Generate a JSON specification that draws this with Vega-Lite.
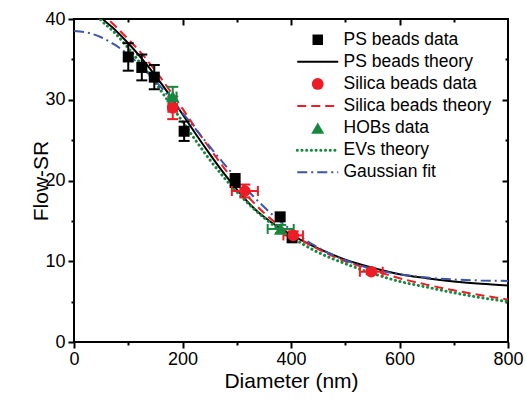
{
  "$schema": "https://vega.github.io/schema/vega-lite/v6.json",
  "width": 434,
  "height": 323,
  "autosize": {"type": "none"},
  "padding": {"left": 74, "top": 19, "right": 18, "bottom": 62},
  "config": {
    "font": "Liberation Sans",
    "view": {"stroke": "black", "strokeWidth": 2},
    "axis": {"grid": false, "domain": false, "tickColor": "black", "tickWidth": 2, "labelColor": "black", "titleColor": "black", "labelFontSize": 18, "titleFontSize": 21, "titleFontWeight": "normal", "labelFlush": false, "labelOverlap": false}
  },
  "datasets": {
    "curves": [
      {"series": "PS beads theory", "x": 0, "y": 44.5}, {"series": "PS beads theory", "x": 25, "y": 42.5}, {"series": "PS beads theory", "x": 50, "y": 40.2}, {"series": "PS beads theory", "x": 75, "y": 38.7}, {"series": "PS beads theory", "x": 100, "y": 37.0}, {"series": "PS beads theory", "x": 125, "y": 35.1}, {"series": "PS beads theory", "x": 150, "y": 33.0}, {"series": "PS beads theory", "x": 175, "y": 30.7}, {"series": "PS beads theory", "x": 200, "y": 28.2}, {"series": "PS beads theory", "x": 225, "y": 25.7}, {"series": "PS beads theory", "x": 250, "y": 23.3}, {"series": "PS beads theory", "x": 275, "y": 21.0}, {"series": "PS beads theory", "x": 300, "y": 18.9}, {"series": "PS beads theory", "x": 325, "y": 17.0}, {"series": "PS beads theory", "x": 350, "y": 15.5}, {"series": "PS beads theory", "x": 375, "y": 14.3}, {"series": "PS beads theory", "x": 400, "y": 13.3}, {"series": "PS beads theory", "x": 425, "y": 12.4}, {"series": "PS beads theory", "x": 450, "y": 11.6}, {"series": "PS beads theory", "x": 500, "y": 10.2}, {"series": "PS beads theory", "x": 550, "y": 9.2}, {"series": "PS beads theory", "x": 600, "y": 8.4}, {"series": "PS beads theory", "x": 650, "y": 7.9}, {"series": "PS beads theory", "x": 700, "y": 7.5}, {"series": "PS beads theory", "x": 750, "y": 7.2}, {"series": "PS beads theory", "x": 800, "y": 7.0},
      {"series": "Silica beads theory", "x": 0, "y": 45.0}, {"series": "Silica beads theory", "x": 25, "y": 43.0}, {"series": "Silica beads theory", "x": 50, "y": 40.8}, {"series": "Silica beads theory", "x": 75, "y": 39.2}, {"series": "Silica beads theory", "x": 100, "y": 37.5}, {"series": "Silica beads theory", "x": 125, "y": 35.7}, {"series": "Silica beads theory", "x": 150, "y": 33.6}, {"series": "Silica beads theory", "x": 175, "y": 31.3}, {"series": "Silica beads theory", "x": 200, "y": 28.9}, {"series": "Silica beads theory", "x": 225, "y": 26.4}, {"series": "Silica beads theory", "x": 250, "y": 24.0}, {"series": "Silica beads theory", "x": 275, "y": 21.7}, {"series": "Silica beads theory", "x": 300, "y": 19.6}, {"series": "Silica beads theory", "x": 325, "y": 17.7}, {"series": "Silica beads theory", "x": 350, "y": 16.0}, {"series": "Silica beads theory", "x": 375, "y": 14.6}, {"series": "Silica beads theory", "x": 400, "y": 13.4}, {"series": "Silica beads theory", "x": 425, "y": 12.4}, {"series": "Silica beads theory", "x": 450, "y": 11.5}, {"series": "Silica beads theory", "x": 500, "y": 10.0}, {"series": "Silica beads theory", "x": 550, "y": 8.9}, {"series": "Silica beads theory", "x": 600, "y": 7.9}, {"series": "Silica beads theory", "x": 650, "y": 7.1}, {"series": "Silica beads theory", "x": 700, "y": 6.4}, {"series": "Silica beads theory", "x": 750, "y": 5.8}, {"series": "Silica beads theory", "x": 800, "y": 5.25},
      {"series": "EVs theory", "x": 0, "y": 44.0}, {"series": "EVs theory", "x": 25, "y": 42.0}, {"series": "EVs theory", "x": 48, "y": 40.0}, {"series": "EVs theory", "x": 75, "y": 38.3}, {"series": "EVs theory", "x": 100, "y": 36.4}, {"series": "EVs theory", "x": 125, "y": 34.3}, {"series": "EVs theory", "x": 150, "y": 32.1}, {"series": "EVs theory", "x": 175, "y": 29.7}, {"series": "EVs theory", "x": 200, "y": 27.3}, {"series": "EVs theory", "x": 225, "y": 24.9}, {"series": "EVs theory", "x": 250, "y": 22.6}, {"series": "EVs theory", "x": 275, "y": 20.5}, {"series": "EVs theory", "x": 300, "y": 18.6}, {"series": "EVs theory", "x": 325, "y": 16.9}, {"series": "EVs theory", "x": 350, "y": 15.4}, {"series": "EVs theory", "x": 375, "y": 14.1}, {"series": "EVs theory", "x": 400, "y": 13.0}, {"series": "EVs theory", "x": 425, "y": 12.0}, {"series": "EVs theory", "x": 450, "y": 11.1}, {"series": "EVs theory", "x": 500, "y": 9.7}, {"series": "EVs theory", "x": 550, "y": 8.5}, {"series": "EVs theory", "x": 600, "y": 7.5}, {"series": "EVs theory", "x": 650, "y": 6.8}, {"series": "EVs theory", "x": 700, "y": 6.1}, {"series": "EVs theory", "x": 750, "y": 5.5}, {"series": "EVs theory", "x": 800, "y": 5.0},
      {"series": "Gaussian fit", "x": 0, "y": 38.5}, {"series": "Gaussian fit", "x": 25, "y": 38.31}, {"series": "Gaussian fit", "x": 50, "y": 37.74}, {"series": "Gaussian fit", "x": 75, "y": 36.82}, {"series": "Gaussian fit", "x": 100, "y": 35.59}, {"series": "Gaussian fit", "x": 125, "y": 34.07}, {"series": "Gaussian fit", "x": 150, "y": 32.32}, {"series": "Gaussian fit", "x": 175, "y": 30.41}, {"series": "Gaussian fit", "x": 200, "y": 28.38}, {"series": "Gaussian fit", "x": 225, "y": 26.3}, {"series": "Gaussian fit", "x": 250, "y": 24.22}, {"series": "Gaussian fit", "x": 275, "y": 22.19}, {"series": "Gaussian fit", "x": 300, "y": 20.24}, {"series": "Gaussian fit", "x": 325, "y": 18.42}, {"series": "Gaussian fit", "x": 350, "y": 16.74}, {"series": "Gaussian fit", "x": 375, "y": 15.23}, {"series": "Gaussian fit", "x": 400, "y": 13.88}, {"series": "Gaussian fit", "x": 425, "y": 12.71}, {"series": "Gaussian fit", "x": 450, "y": 11.7}, {"series": "Gaussian fit", "x": 475, "y": 10.84}, {"series": "Gaussian fit", "x": 500, "y": 10.13}, {"series": "Gaussian fit", "x": 550, "y": 9.06}, {"series": "Gaussian fit", "x": 600, "y": 8.39}, {"series": "Gaussian fit", "x": 650, "y": 7.98}, {"series": "Gaussian fit", "x": 700, "y": 7.74}, {"series": "Gaussian fit", "x": 750, "y": 7.62}, {"series": "Gaussian fit", "x": 800, "y": 7.56}
    ],
    "points": [
      {"series": "PS beads data", "x": 100, "y": 35.3, "ylo": 33.6, "yhi": 37.0},
      {"series": "PS beads data", "x": 125, "y": 34.0, "ylo": 32.4, "yhi": 35.6},
      {"series": "PS beads data", "x": 148, "y": 32.8, "ylo": 31.3, "yhi": 34.3},
      {"series": "PS beads data", "x": 203, "y": 26.1, "ylo": 24.9, "yhi": 27.3},
      {"series": "PS beads data", "x": 297, "y": 20.0, "ylo": 19.2, "yhi": 20.8},
      {"series": "PS beads data", "x": 380, "y": 15.5},
      {"series": "PS beads data", "x": 402, "y": 12.9},
      {"series": "Silica beads data", "x": 182, "y": 29.0, "ylo": 27.6, "yhi": 30.4, "xlo": 174, "xhi": 190},
      {"series": "Silica beads data", "x": 315, "y": 18.7, "ylo": 17.9, "yhi": 19.5, "xlo": 291, "xhi": 339},
      {"series": "Silica beads data", "x": 404, "y": 13.2, "ylo": 12.7, "yhi": 13.7, "xlo": 386, "xhi": 422},
      {"series": "Silica beads data", "x": 548, "y": 8.7, "ylo": 8.4, "yhi": 9.0, "xlo": 527, "xhi": 569},
      {"series": "HOBs data", "x": 182, "y": 30.4, "ylo": 29.2, "yhi": 31.6, "xlo": 175, "xhi": 189},
      {"series": "HOBs data", "x": 381, "y": 14.0, "ylo": 13.5, "yhi": 14.5, "xlo": 357, "xhi": 405}
    ]
  },
  "encoding": {
    "color": {
      "field": "series",
      "type": "nominal",
      "scale": {
        "domain": ["PS beads data", "PS beads theory", "Silica beads data", "Silica beads theory", "HOBs data", "EVs theory", "Gaussian fit"],
        "range": ["#000000", "#000000", "#ee1c25", "#ee1c25", "#17873f", "#17873f", "#3a56a5"]
      },
      "legend": {
        "title": null,
        "orient": "none",
        "legendX": 223,
        "legendY": 12,
        "padding": 0,
        "labelFontSize": 17.5,
        "labelColor": "black",
        "labelLimit": 300,
        "symbolSize": 100,
        "symbolStrokeWidth": 2,
        "symbolOffset": 12,
        "labelOffset": 17,
        "rowPadding": 3.1,
        "encode": {
          "symbols": {
            "update": {
              "shape": {"signal": "datum.value === 'PS beads data' ? 'square' : datum.value === 'Silica beads data' ? 'circle' : datum.value === 'HOBs data' ? 'triangle-up' : 'stroke'"},
              "size": {"signal": "datum.value === 'PS beads data' ? 110 : datum.value === 'Silica beads data' ? 140 : datum.value === 'HOBs data' ? 170 : 1681"},
              "fill": {"signal": "indexof(['PS beads data','Silica beads data','HOBs data'], datum.value) >= 0 ? scale('color', datum.value) : 'transparent'"},
              "stroke": {"signal": "scale('color', datum.value)"},
              "strokeWidth": {"signal": "indexof(['PS beads data','Silica beads data','HOBs data'], datum.value) >= 0 ? 0 : (datum.value === 'EVs theory' ? 3 : 2)"},
              "strokeDash": {"signal": "datum.value === 'Silica beads theory' ? [9,5] : datum.value === 'EVs theory' ? [0.1,4.6] : datum.value === 'Gaussian fit' ? [10,4,2,4] : [1,0]"},
              "strokeCap": {"signal": "datum.value === 'EVs theory' ? 'round' : 'butt'"},
              "opacity": {"value": 1}
            }
          }
        }
      }
    }
  },
  "layer": [
    {
      "data": {"name": "points"},
      "mark": {"type": "point", "opacity": 0},
      "encoding": {
        "x": {"field": "x", "type": "quantitative", "scale": {"domain": [0, 800], "nice": false, "zero": false},
          "axis": {"orient": "bottom", "values": [0, 200, 400, 600, 800], "tickSize": 6, "labelPadding": 2, "title": "Diameter (nm)", "titleY": 45, "titleBaseline": "alphabetic"}},
        "y": {"field": "y", "type": "quantitative", "scale": {"domain": [0, 40], "nice": false, "zero": false},
          "axis": {"orient": "left", "values": [0, 10, 20, 30, 40], "tickSize": 6, "labelPadding": 3, "title": "Flow-SR", "titleX": -27, "titleBaseline": "alphabetic"}}
      }
    },
    {
      "data": {"name": "points"},
      "mark": {"type": "point", "opacity": 0},
      "encoding": {
        "x": {"field": "x", "type": "quantitative", "axis": {"orient": "bottom", "values": [100, 300, 500, 700], "tickSize": 3, "labels": false, "title": null}},
        "y": {"field": "y", "type": "quantitative", "axis": {"orient": "left", "values": [5, 15, 25, 35], "tickSize": 3, "labels": false, "title": null}}
      }
    },
    {
      "data": {"name": "points"},
      "mark": {"type": "point", "opacity": 0},
      "encoding": {
        "x": {"field": "x", "type": "quantitative", "axis": {"orient": "top", "values": [200, 400, 600], "tickSize": -6, "labels": false, "title": null}},
        "y": {"field": "y", "type": "quantitative", "axis": {"orient": "right", "values": [10, 20, 30], "tickSize": -6, "labels": false, "title": null}}
      }
    },
    {
      "data": {"name": "points"},
      "mark": {"type": "point", "opacity": 0},
      "encoding": {
        "x": {"field": "x", "type": "quantitative", "axis": {"orient": "top", "values": [100, 300, 500, 700], "tickSize": -3, "labels": false, "title": null}},
        "y": {"field": "y", "type": "quantitative", "axis": {"orient": "right", "values": [5, 15, 25, 35], "tickSize": -3, "labels": false, "title": null}}
      }
    },
    {
      "data": {"name": "curves"},
      "transform": [{"filter": "datum.series === 'PS beads theory'"}],
      "mark": {"type": "line", "strokeWidth": 2, "clip": true, "interpolate": "monotone"},
      "encoding": {"x": {"field": "x", "type": "quantitative", "axis": null}, "y": {"field": "y", "type": "quantitative", "axis": null}}
    },
    {
      "data": {"name": "curves"},
      "transform": [{"filter": "datum.series === 'Silica beads theory'"}],
      "mark": {"type": "line", "strokeWidth": 2, "strokeDash": [9, 5], "clip": true, "interpolate": "monotone"},
      "encoding": {"x": {"field": "x", "type": "quantitative", "axis": null}, "y": {"field": "y", "type": "quantitative", "axis": null}}
    },
    {
      "data": {"name": "curves"},
      "transform": [{"filter": "datum.series === 'EVs theory'"}],
      "mark": {"type": "line", "strokeWidth": 3, "strokeDash": [0.1, 4.6], "strokeCap": "round", "clip": true, "interpolate": "monotone"},
      "encoding": {"x": {"field": "x", "type": "quantitative", "axis": null}, "y": {"field": "y", "type": "quantitative", "axis": null}}
    },
    {
      "data": {"name": "curves"},
      "transform": [{"filter": "datum.series === 'Gaussian fit'"}],
      "mark": {"type": "line", "strokeWidth": 2, "strokeDash": [10, 4, 2, 4], "clip": true, "interpolate": "monotone"},
      "encoding": {"x": {"field": "x", "type": "quantitative", "axis": null}, "y": {"field": "y", "type": "quantitative", "axis": null}}
    },
    {
      "data": {"name": "points"},
      "transform": [{"filter": "isValid(datum.ylo)"}],
      "mark": {"type": "rule", "strokeWidth": 2},
      "encoding": {"x": {"field": "x", "type": "quantitative", "axis": null}, "y": {"field": "ylo", "type": "quantitative", "axis": null}, "y2": {"field": "yhi"}}
    },
    {
      "data": {"name": "points"},
      "transform": [{"filter": "isValid(datum.ylo)"}],
      "mark": {"type": "tick", "orient": "horizontal", "size": 11, "thickness": 2, "opacity": 1},
      "encoding": {"x": {"field": "x", "type": "quantitative", "axis": null}, "y": {"field": "ylo", "type": "quantitative", "axis": null}}
    },
    {
      "data": {"name": "points"},
      "transform": [{"filter": "isValid(datum.yhi)"}],
      "mark": {"type": "tick", "orient": "horizontal", "size": 11, "thickness": 2, "opacity": 1},
      "encoding": {"x": {"field": "x", "type": "quantitative", "axis": null}, "y": {"field": "yhi", "type": "quantitative", "axis": null}}
    },
    {
      "data": {"name": "points"},
      "transform": [{"filter": "isValid(datum.xlo)"}],
      "mark": {"type": "rule", "strokeWidth": 2},
      "encoding": {"x": {"field": "xlo", "type": "quantitative", "axis": null}, "x2": {"field": "xhi"}, "y": {"field": "y", "type": "quantitative", "axis": null}}
    },
    {
      "data": {"name": "points"},
      "transform": [{"filter": "isValid(datum.xlo)"}],
      "mark": {"type": "tick", "orient": "vertical", "size": 10, "thickness": 2, "opacity": 1},
      "encoding": {"x": {"field": "xlo", "type": "quantitative", "axis": null}, "y": {"field": "y", "type": "quantitative", "axis": null}}
    },
    {
      "data": {"name": "points"},
      "transform": [{"filter": "isValid(datum.xhi)"}],
      "mark": {"type": "tick", "orient": "vertical", "size": 10, "thickness": 2, "opacity": 1},
      "encoding": {"x": {"field": "xhi", "type": "quantitative", "axis": null}, "y": {"field": "y", "type": "quantitative", "axis": null}}
    },
    {
      "data": {"name": "points"},
      "transform": [{"filter": "datum.series === 'PS beads data'"}],
      "mark": {"type": "point", "shape": "square", "filled": true, "size": 121, "opacity": 1},
      "encoding": {"x": {"field": "x", "type": "quantitative", "axis": null}, "y": {"field": "y", "type": "quantitative", "axis": null}}
    },
    {
      "data": {"name": "points"},
      "transform": [{"filter": "datum.series === 'Silica beads data'"}],
      "mark": {"type": "point", "shape": "circle", "filled": true, "size": 135, "opacity": 1},
      "encoding": {"x": {"field": "x", "type": "quantitative", "axis": null}, "y": {"field": "y", "type": "quantitative", "axis": null}}
    },
    {
      "data": {"name": "points"},
      "transform": [{"filter": "datum.series === 'HOBs data'"}],
      "mark": {"type": "point", "shape": "triangle-up", "filled": true, "size": 180, "opacity": 1},
      "encoding": {"x": {"field": "x", "type": "quantitative", "axis": null}, "y": {"field": "y", "type": "quantitative", "axis": null}}
    },
    {
      "mark": {"type": "rule", "strokeWidth": 2},
      "encoding": {"x": {"datum": 400, "type": "quantitative", "axis": null}, "y": {"datum": 0, "type": "quantitative", "axis": null}, "y2": {"datum": 2.3}, "color": {"value": "black"}}
    },
    {
      "mark": {"type": "text", "fontSize": 17, "baseline": "alphabetic", "align": "center"},
      "encoding": {"x": {"datum": 400, "type": "quantitative", "axis": null}, "y": {"datum": 3.2, "type": "quantitative", "axis": null}, "text": {"value": "λ"}, "color": {"value": "black"}}
    }
  ],
  "resolve": {"axis": {"x": "independent", "y": "independent"}}
}
